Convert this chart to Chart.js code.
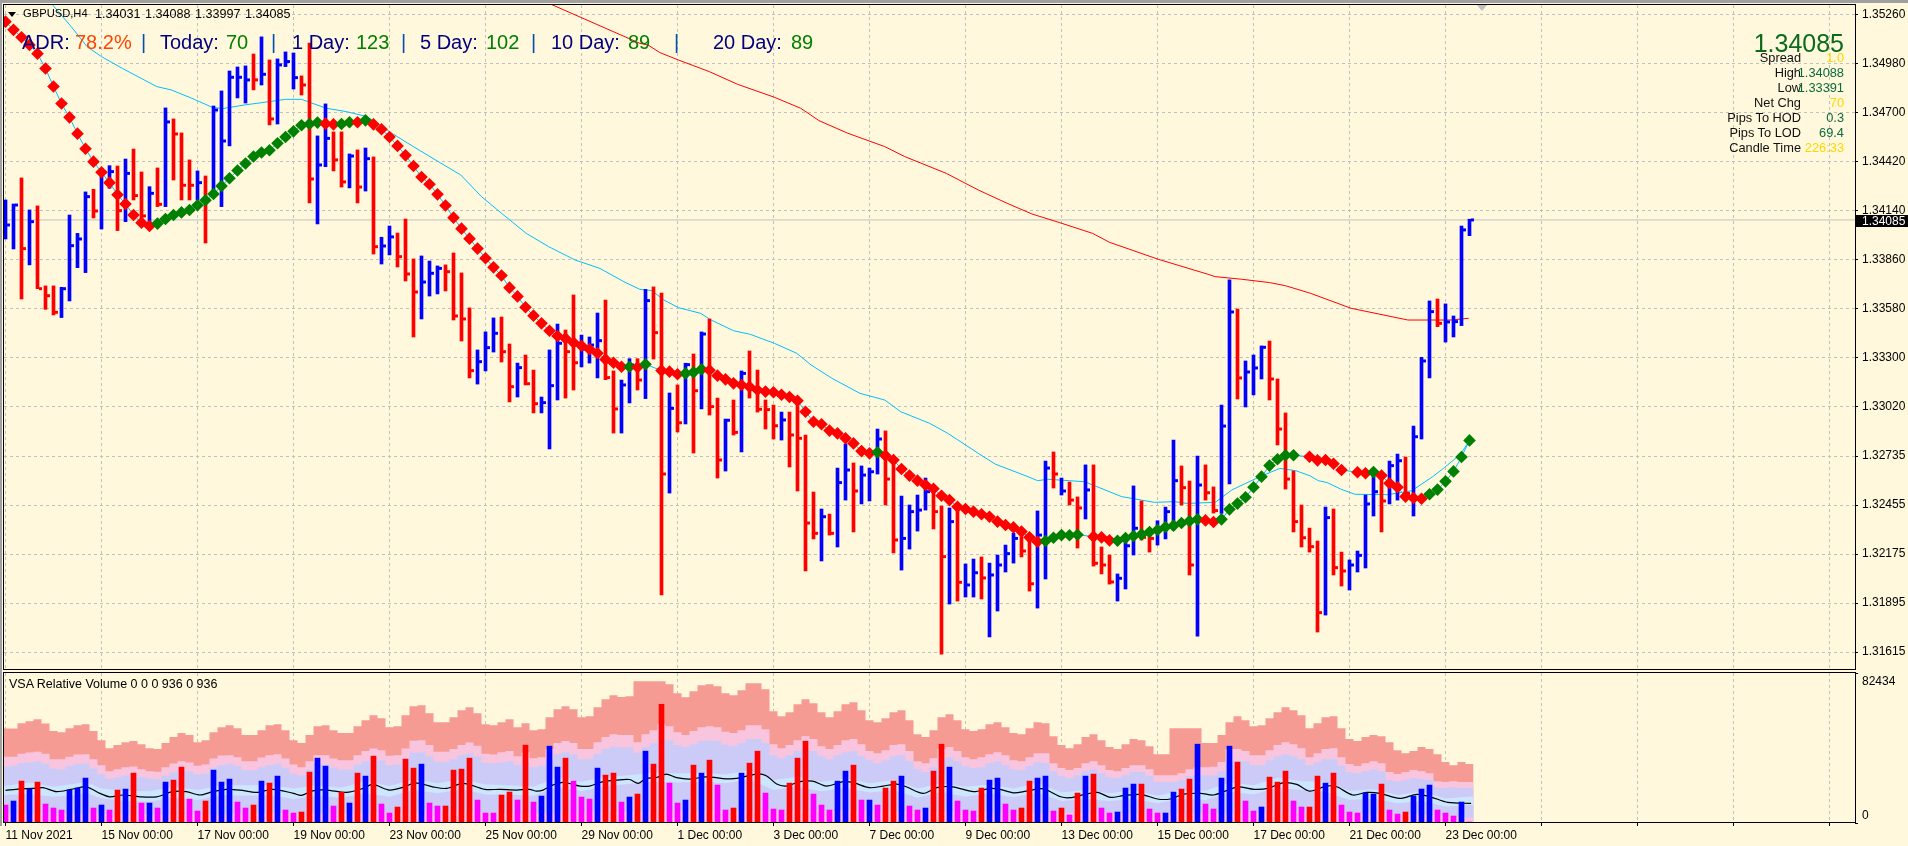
<!DOCTYPE html>
<html>
<head>
<meta charset="utf-8">
<title>GBPUSD,H4</title>
<script src="https://cdn.jsdelivr.net/npm/chart.js@4/dist/chart.umd.min.js"></script>
<style>
    html, body { margin: 0; padding: 0; width: 1908px; height: 846px; overflow: hidden; background: #FFF8DC; }
    body { position: relative; font-family: "Liberation Sans", Arial, sans-serif; color: #000; }
    canvas { position: absolute; left: 0; }
    #priceChart { top: 0; }
    #volumeChart { top: 672px; }
    .strip { position: absolute; background: #A0A0A0; }
    .t { position: absolute; white-space: pre; transform: translateY(-50%); line-height: 1; }
    .adr { font-size: 20px; top: 42px; color: #000080; }
    .sep { color: #0050B0; }
    .grn { color: #008000; }
    .row { font-size: 12.8px; }
    .lbl { right: 107px; color: #111; }
    .val { right: 64px; }
    .gold { color: #FFD700; }
    .dgrn { color: #0A6B3A; }
</style>
</head>
<body>
<canvas id="priceChart" width="1908" height="672"></canvas>
<canvas id="volumeChart" width="1908" height="174"></canvas>

<div class="strip" style="left:0;top:0;width:1908px;height:3px"></div>
<div class="strip" style="left:0;top:0;width:2px;height:826px"></div>
<div style="position:absolute;left:8px;top:12px;border-left:4px solid transparent;border-right:4px solid transparent;border-top:5px solid #000"></div>
<div style="position:absolute;left:1477px;top:5px;border-left:5px solid transparent;border-right:5px solid transparent;border-top:6px solid #C0C0C0"></div>

<div class="t" style="left:23px;top:14px;font-size:11.2px">GBPUSD,H4</div>
<div class="t" style="left:95px;top:14px;font-size:12.6px;word-spacing:1px">1.34031 1.34088 1.33997 1.34085</div>

<div class="t adr" style="left:22px">ADR:</div>
<div class="t adr" style="left:75px;color:#FF4500">78.2%</div>
<div class="t adr sep" style="left:141px">|</div>
<div class="t adr" style="left:160px">Today:</div>
<div class="t adr grn" style="left:226px">70</div>
<div class="t adr sep" style="left:271px">|</div>
<div class="t adr" style="left:292px">1 Day:</div>
<div class="t adr grn" style="left:356px">123</div>
<div class="t adr sep" style="left:401px">|</div>
<div class="t adr" style="left:420px">5 Day:</div>
<div class="t adr grn" style="left:486px">102</div>
<div class="t adr sep" style="left:531px">|</div>
<div class="t adr" style="left:551px">10 Day:</div>
<div class="t adr grn" style="left:628px">89</div>
<div class="t adr sep" style="left:674px">|</div>
<div class="t adr" style="left:713px">20 Day:</div>
<div class="t adr grn" style="left:791px">89</div>

<div class="t" style="right:64px;top:43px;font-size:25px;color:#0B6B1B">1.34085</div>
<div class="t row lbl" style="top:58px">Spread</div><div class="t row val gold" style="top:58px">1.0</div>
<div class="t row lbl" style="top:73px">High</div><div class="t row val dgrn" style="top:73px">1.34088</div>
<div class="t row lbl" style="top:88px">Low</div><div class="t row val dgrn" style="top:88px">1.33391</div>
<div class="t row lbl" style="top:103px">Net Chg</div><div class="t row val gold" style="top:103px">70</div>
<div class="t row lbl" style="top:118px">Pips To HOD</div><div class="t row val dgrn" style="top:118px">0.3</div>
<div class="t row lbl" style="top:133px">Pips To LOD</div><div class="t row val dgrn" style="top:133px">69.4</div>
<div class="t row lbl" style="top:148px">Candle Time</div><div class="t row val gold" style="top:148px">226:33</div>

<div style="position:absolute;left:1856px;top:215px;width:52px;height:12px;background:#000"></div>
<div class="t" style="left:1862px;top:221px;font-size:12px;color:#fff">1.34085</div>

<div class="t" style="left:9px;top:684px;font-size:12.5px">VSA Relative Volume 0 0 0 936 0 936</div>

<script>
// all prices are in points (1/100000), volumes in ticks
const barHighs = [
    134199,134176,134325,134142,134165,133708,133708,133700,134113,134008,
    134245,134260,134380,134395,134393,134433,134490,134359,134275,134382,
    134725,134662,134582,134428,134365,134336,134736,134822,134936,134959,
    134965,135033,135131,134999,135005,135045,135039,134908,135096,134565,
    134748,134588,134588,134462,134485,134496,134445,133986,134050,134010,
    134090,133862,133879,133850,133822,133828,133896,133782,133582,133342,
    133445,133525,133530,133376,133267,133313,133227,133073,133342,133490,
    133456,133656,133427,133416,133553,133627,133222,133170,133292,133292,
    133688,133702,133667,133096,133142,133266,133319,133445,133519,133067,
    132947,133056,133222,133336,133227,133056,133027,132987,132987,133075,
    132856,132530,132433,132404,132667,132805,132696,132679,132667,132890,
    132879,132713,132507,132456,132513,132610,132561,132450,132439,132465,
    132119,132147,132159,132124,132170,132227,132294,132275,132275,132422,
    132707,132759,132610,132587,132502,132685,132685,132216,132170,132062,
    132256,132565,132479,132294,132366,132444,132827,132679,132593,132736,
    132685,132559,133027,133742,133576,133279,133313,133365,133393,133176,
    132982,132650,132456,132324,132250,132444,132433,132187,132142,132193,
    132513,132665,132599,132707,132747,132730,132907,133300,133622,133633,
    133605,133536,134050,134089
];
const barLows = [
    133976,133919,133633,133828,133692,133574,133542,133527,133622,133812,
    133784,134096,134033,134266,134024,134075,134199,134085,134075,134161,
    134161,134313,134199,134199,134199,133953,134218,134161,134508,134782,
    134753,134828,134856,134628,134633,134961,134833,134799,134182,134062,
    134389,134365,134273,134268,134182,134250,133890,133833,133885,133816,
    133736,133416,133519,133650,133662,133679,133513,133393,133182,133147,
    133222,133330,133273,133045,133073,133142,132982,132982,132776,133056,
    133067,133113,133245,133267,133182,133172,132867,132867,133039,133113,
    133064,133290,131942,132524,132873,132919,132753,133005,132970,132610,
    132650,132856,132759,133067,132987,132890,132833,132827,132673,132536,
    132079,132262,132136,132284,132216,132484,132302,132462,132479,132633,
    132456,132182,132084,132204,132307,132427,132319,131604,131890,131907,
    131930,131930,131919,131702,131850,132073,132124,132159,131964,131867,
    132033,132553,132513,132456,132210,132376,132107,132062,132004,131907,
    131976,132170,132256,132187,132227,132262,132313,132456,132056,131707,
    132484,132410,132408,132576,133062,133016,133085,133176,133056,132799,
    132547,132302,132216,132187,131730,131827,132056,131993,131970,132073,
    132096,132393,132302,132462,132484,132484,132393,132833,133182,133475,
    133387,133416,133481,133995
];
const barCloses = [
    134056,134170,133921,134075,133692,133652,133557,133692,133938,133976,
    134218,134136,134357,134361,134138,134351,134224,134108,134237,134174,
    134645,134576,134283,134283,134298,134199,134713,134536,134900,134900,
    134885,134885,134917,134662,134971,134990,134898,134856,134319,134399,
    134551,134428,134302,134450,134273,134435,133932,133936,133988,133875,
    133776,133673,133730,133780,133808,133789,133536,133519,133224,133275,
    133355,133437,133332,133132,133241,133149,133035,133041,133138,133380,
    133332,133269,133347,133370,133395,133184,133005,133142,133256,133170,
    133624,133441,132633,133008,132926,133258,133109,133433,133018,132713,
    132940,132871,133208,133132,133003,133001,132909,132942,132856,132837,
    132353,132294,132389,132294,132584,132656,132536,132627,132646,132833,
    132604,132256,132265,132418,132427,132532,132418,132161,132361,132014,
    131999,132069,132039,132056,132113,132178,132265,132193,132006,132284,
    132667,132633,132536,132484,132439,132542,132123,132113,132016,132037,
    132223,132323,132271,132265,132317,132418,132595,132555,132113,132570,
    132526,132424,132907,133559,133182,133216,133239,133357,133176,132890,
    132604,132361,132269,132218,131841,132384,132098,132079,132113,132168,
    132462,132532,132479,132681,132709,132523,132846,133279,133561,133494,
    133502,133504,134028,134085
];
// bars that close up are drawn blue
const upBars = [
    0,1,3,7,8,9,10,12,13,15,18,20,24,26,27,28,29,30,32,34,35,36,39,40,43,45,47,48,52,53,54,
    59,60,61,64,67,68,69,72,73,74,77,78,80,83,85,87,90,92,97,102,104,105,107,108,109,112,
    113,114,115,118,120,121,123,124,125,126,129,130,132,135,139,140,141,144,145,146,149,
    152,153,155,156,157,165,168,169,170,171,173,174,176,177,178,180,181,182,183
];

const trendValues = [
    135218,135171,135129,135085,135035,134950,134847,134750,134671,134578,
    134492,134418,134357,134298,134229,134176,134113,134069,134050,134064,
    134090,134113,134128,134142,134169,134197,134233,134279,134323,134367,
    134407,134447,134470,134483,134523,134559,134591,134626,134633,134641,
    134635,134631,134633,134643,134643,134654,134631,134603,134559,134508,
    134454,134393,134330,134289,134231,134167,134098,134035,133978,133921,
    133866,133814,133767,133698,133648,133586,133538,133494,133452,133422,
    133408,133384,133366,133346,133323,133288,133269,133246,133246,133243,
    133260,null,133224,133218,133203,133208,133214,133231,133226,133195,
    133174,133151,133142,133132,133113,133104,133100,133086,133073,133052,
    132989,132932,132917,132881,132865,132837,132808,132764,132751,132757,
    132738,132713,132662,132624,132595,132570,132549,132509,132484,132446,
    132433,132418,132403,132389,132361,132342,132328,132304,132271,132246,
    132250,132269,132284,132283,132286,null,132275,132271,132254,132252,
    132267,132279,132288,132302,132313,132330,132338,132353,132364,132374,
    132368,132359,132374,132431,132464,132500,132557,132618,132681,132717,
    132740,132740,null,132732,132711,132713,132692,132656,null,132643,
    132637,132644,132624,132580,132557,132504,132496,132492,132517,132544,
    132591,132648,132730,132825
];
const trendUpBars = [
    19,20,21,22,23,24,25,26,27,28,29,30,31,32,33,34,35,36,37,38,39,42,43,45,78,80,85,86,87,109,
    130,131,132,133,134,139,140,141,142,143,144,145,146,147,148,149,
    152,153,154,155,156,157,158,159,160,161,171,178,179,180,181,182,183
];

const maFastBars = [
    5.9,8.2,10.2,12,14.6,18.9,20.7,23.3,25.8,27.1,29.9,33,35,37,40.1,42.6,45.2,48.3,50.3,54.1,56.9,
    59.5,62,65.1,67.9,71.2,74.3,77.3,79.3,80.8,82.3,84.1,86.9,88.2,91,93.1,96.1,98.9,100.7,103.3,
    106.8,109.9,111.9,115.5,117.8,121.6,123.7,127.8,129,130.3,134.9,139.5,143.6,146.1,147.7,151.2,
    153.3,156.8,159.3,161.3,163.1,164.1,165.2,166.9,168.7,172.8,175.8,178.4,179.9,181.9,182.9
];
const maFastValues = [
    135313,135190,135075,135018,134951,134847,134828,134780,134729,134721,134742,134761,134774,134774,134723,134704,134675,134580,134523,134418,134342,
    134218,134123,134008,133932,133856,133808,133732,133688,133681,133627,133584,133551,133513,133452,133431,133380,133323,133256,133180,
    133094,133056,132989,132923,132865,132751,132690,132618,132595,132603,132589,132504,132471,132475,132465,132471,
    132542,132618,132665,132652,132622,132595,132584,132547,132517,132515,132538,132618,132671,132747,132818
];
const maSlowBars = [
    68.2,79.3,80.3,81.8,84.1,88,91.5,96.1,99.4,101.7,105.3,109.9,112.4,117.6,121.6,125.2,128.3,131.8,
    135.9,138,144.1,150.2,151.2,154.5,158,160,163.1,168.2,175.3,180.7,182.9
];
const maSlowValues = [
    135317,135094,135085,135041,134999,134932,134860,134786,134723,134652,134580,134504,134447,134351,134256,134180,134119,134069,
    134008,133957,133860,133776,133761,133746,133727,133709,133666,133580,133513,133513,133523
];
const currentPrice = 134085;

const yTickValues = [135260,134980,134700,134420,134140,133860,133580,133300,133020,132735,132455,132175,131895,131615];
const xTickBars = [0,12,24,36,48,60,72,84,96,108,120,132,144,156,168,180,192,204,216,228];
const xTickLabels = [
    '11 Nov 2021','15 Nov 00:00','17 Nov 00:00','19 Nov 00:00','23 Nov 00:00','25 Nov 00:00','29 Nov 00:00','1 Dec 00:00',
    '3 Dec 00:00','7 Dec 00:00','9 Dec 00:00','13 Dec 00:00','15 Dec 00:00','17 Dec 00:00','21 Dec 00:00','23 Dec 00:00'
];

const volumeValues = [
    9871,12065,23033,18646,22484,10420,8226,7129,18097,19194,
    24678,8226,9871,7129,18097,18646,27420,10968,10968,8226,
    22484,23581,30710,13162,6581,12065,29065,22484,24130,11516,
    8226,9871,23033,21936,25775,7129,5484,6032,27968,35646,
    31259,9323,17000,10968,27420,25775,36743,10420,5484,8774,
    35098,30162,32356,10968,9323,9323,29065,29614,35646,12613,
    5484,5484,15355,17000,12613,42775,11516,14807,42227,30710,
    35646,23033,14258,13162,30162,26323,27420,11516,14258,15904,
    39485,32356,65260,21936,10968,12613,31807,27420,34549,20839,
    7129,8226,27420,32904,39485,16452,7678,7129,21936,35646,
    44969,15904,9871,7129,23033,28517,31807,12613,12613,9871,
    19194,23033,25775,9323,7129,8226,28517,43324,30710,12065,
    7129,6581,19194,23581,24678,10420,7129,8226,23033,24678,
    25775,6581,8226,4387,16452,25775,26872,8226,5484,6032,
    19194,21388,21388,7678,5484,5484,17000,18646,24130,43324,
    10420,7678,24678,42227,33452,12065,6581,8774,25226,22484,
    28517,12065,8774,8774,25775,21936,27420,9871,6032,5484,
    16452,15904,21388,7129,4936,6032,14807,18646,20839,7129,
    5484,3839,11516,548
];
// b = buying, r = selling, m = low volume
const volumeKinds = (
    'mbrbrmmmbb' + 'bmbmrbrmbm' + 'brrmmrbbbm' + 'mrbrbmmrrb' + 'bmrbrbrmmr' + 'rrbmmrrrrm' +
    'mmrrmrmbbb' + 'rmmmbrrmbr' + 'brrmmbrbrm' + 'mrbrrmmmrr' + 'rmmmbbrmbm' + 'rrbmmbrrbm' +
    'mmrbbmmrrb' + 'bmrmrbrmmb' + 'bbrmmbbrrb' + 'mmbbrmmbrr' + 'rmmrrbrmmm' + 'bbrmmrbbbm' + 'mmbm'
).split('');

// band tops, in hundreds of ticks
const bandHighTops = [
    519,519,548,559,570,547,505,499,521,537,543,505,455,411,428,444,450,433,411,406,
    439,472,494,483,444,455,499,526,537,521,483,483,510,537,543,510,455,439,483,532,
    537,510,494,494,532,565,592,576,526,532,592,642,647,603,554,554,581,620,636,603,
    543,537,554,570,526,548,510,515,581,625,642,625,581,587,636,680,702,693,696,779,
    779,779,779,762,713,691,724,757,762,751,713,702,729,768,768,735,614,587,609,653,
    680,658,609,581,614,653,664,620,565,554,576,609,620,565,488,472,510,581,598,565,
    515,505,515,543,554,526,494,488,521,554,548,477,428,411,433,472,488,455,417,406,
    433,461,455,422,378,378,521,521,521,521,439,439,483,554,587,565,532,537,576,609,
    636,620,592,521,548,581,587,521,461,450,472,483,477,444,400,384,395,417,406,378,
    335,318,335,324
];
const bandMidTops = [
    364,364,380,388,391,380,351,351,364,377,378,351,318,285,296,307,311,296,285,282,
    307,327,340,333,314,322,355,371,373,362,340,340,360,373,378,355,322,307,340,373,
    373,355,345,345,373,395,409,400,369,373,409,452,455,428,391,391,406,428,442,424,
    380,377,389,395,367,388,356,362,406,439,450,439,406,406,444,472,488,483,483,444,
    488,510,543,532,499,483,505,526,532,526,501,494,510,537,537,515,433,411,428,455,
    477,461,422,406,428,455,461,433,395,384,400,428,433,395,340,329,356,406,417,395,
    362,351,362,378,389,373,345,340,362,384,384,329,302,291,302,329,340,318,291,285,
    302,318,318,296,263,263,263,274,296,307,307,309,335,406,406,395,373,373,400,428,
    444,433,411,362,384,406,411,362,324,313,329,340,329,280,269,280,291,285,274,230,
    225,230,225,225
];
const bandLowTops = [
    309,314,329,333,340,325,300,296,314,324,327,300,269,243,252,261,265,252,245,241,
    260,278,291,285,267,272,303,318,324,313,291,291,307,318,324,303,272,263,292,322,
    322,305,294,294,322,340,355,344,318,322,355,388,389,367,336,336,351,373,382,366,
    331,327,333,340,318,333,307,314,351,378,389,377,351,353,380,406,419,415,415,386,
    417,439,464,455,428,417,433,450,455,450,430,424,439,461,461,439,373,356,373,395,
    411,395,367,351,373,389,395,367,345,329,345,367,373,340,296,280,307,351,362,340,
    313,302,307,329,340,318,296,291,313,335,329,285,258,247,263,285,296,274,252,247,
    263,280,280,258,225,225,225,236,258,263,263,263,285,345,340,340,318,318,345,367,
    378,367,351,318,335,351,351,313,280,274,285,296,285,236,230,236,247,241,236,197,
    192,197,192,192
];
const bandEdgeBars = [
    0,3,6,9,10,12,15,18,21,24,27,30,33,36,39,42,45,48,51,54,57,60,
    63,66,69,72,75,78,81,84,87,90,93,96,99,102,105,108,111,114,117,120,123,
    126,129,132,135,138,141,144,147,150,153,156,159,162,165,168,171,174,177,180,183
];
const bandCoreTops = [
    205,223,199,218,227,190,177,175,199,181,208,208,208,190,208,194,230,203,241,218,241,212,
    208,199,249,227,254,263,278,272,276,267,291,236,254,227,245,218,236,190,218,199,212,
    190,218,168,181,163,181,150,181,177,223,208,249,230,227,177,186,154,172,135,144
];
const bandCoreBottoms = [
    154,159,144,154,168,135,121,117,141,126,154,150,154,132,150,139,163,144,183,163,186,157,
    157,150,199,175,205,214,227,223,227,218,241,181,199,175,194,168,181,139,172,144,163,
    141,166,121,132,121,132,108,135,126,172,157,194,181,172,126,135,108,121,90,99
];
const bandFloorBars = [0,8,16,24,32,40,48,56,64,72,80,88,96,104,112,120,128,136,144,152,160,168,176,183];
const bandFloorTops = [48,51,48,44,55,51,55,58,55,58,62,66,66,66,62,62,53,57,51,51,58,53,51,29];

const volumeLineBars = [
    0,1.8,3.4,4.7,6.4,8.2,10.1,11.8,13,14.7,16.8,18.9,20.9,22.6,24.3,25.9,27.6,29.3,31.4,33.4,36,37,38.4,40.1,42.6,44.7,45.9,48,49.9,51.2,53.4,55.1,57.2,59.9,61.8,
    63.9,65.5,66.4,67.2,68.4,69.7,71.8,73,74.7,76.4,78,79.1,80.1,81.4,82.6,83.9,85.5,87.6,90.1,91.4,93.9,95.1,96.4,97.6,99.3,100.9,102.6,104.7,105.9,108,109.7,111.4,112.6,114.7,116.4,118.4,121,123.1,
    124.3,126,127.6,129.7,131.9,133.1,134.9,136.5,138.1,139.7,141.9,144,145.6,147.3,149.4,151,152.8,154.1,156.1,157.8,159.7,161.4,163,165.1,166.4,168.4,170.1,171.8,174.3,176.4,178.1,180.3,183.2
];
const volumeLineValues = [
    179,188,190,194,172,185,199,163,144,154,144,144,172,172,154,172,185,181,168,185,163,152,177,181,168,190,212,181,199,221,199,190,218,185,185,
    181,185,175,181,208,223,203,203,227,236,239,218,245,250,269,249,241,254,243,245,269,260,214,203,227,230,203,227,223,194,203,214,199,163,194,199,172,190,
    185,166,175,188,144,139,157,168,141,150,157,132,132,159,163,154,181,199,185,190,221,212,175,203,199,154,168,163,135,157,144,113,108
];
const volumeAxisMax = 82434;
const volumeTickSpots = [0, 3850, 77650, 82434];
const volumeTickLabels = ['', '0', '82434', ''];

const BLUE = '#0000FF';
const RED = '#FF0000';
const MAGENTA = '#FF00FF';
const GREEN = '#008000';
const SKY = '#00BFFF';
const GRID = '#C0C0C0';
const AXIS_FONT = { family: '"Liberation Sans", Arial, sans-serif', size: 12 };

const X_MIN = -0.1875;
const X_MAX = 231.1875;
const AXIS_WIDTH = 53;

const toPrice = p => p / 100000;
const fromHundreds = v => v * 100;
// the plot box is fixed, so labels may hang over its edges
const clearOverhang = scale => {
    scale.paddingTop = 0;
    scale.paddingBottom = 0;
    scale.paddingLeft = 0;
    scale.paddingRight = 0;
};
const fixedWidth = scale => {
    scale.width = AXIS_WIDTH;
    clearOverhang(scale);
};
const setXTicks = scale => { scale.ticks = xTickBars.map(v => ({ value: v })); };

// thin black box round the plot
const framePlugin = {
    id: 'frame',
    afterDraw(chart) {
        const { ctx, chartArea: a } = chart;
        ctx.save();
        ctx.strokeStyle = '#000';
        ctx.lineWidth = 1;
        ctx.strokeRect(a.left - 0.5, a.top - 0.5, a.right - a.left + 1, a.bottom - a.top);
        ctx.restore();
    },
};

function xScale(showLabels, axisHeight) {
    return {
        type: 'linear',
        min: X_MIN,
        max: X_MAX,
        offset: false,
        afterBuildTicks: setXTicks,
        afterFit: scale => {
            scale.height = axisHeight;
            clearOverhang(scale);
        },
        grid: { color: GRID, offset: false, drawTicks: showLabels, tickLength: 3, tickColor: '#000' },
        border: { display: false, dash: [3, 3] },
        ticks: {
            display: showLabels,
            autoSkip: false,
            maxRotation: 0,
            align: 'start',
            padding: 2,
            color: '#000',
            font: AXIS_FONT,
            callback: (value, index) => xTickLabels[index] || '',
        },
    };
}

function lineVertices(bars, values) {
    return bars.map((b, i) => ({ x: b, y: toPrice(values[i]) }));
}

const bars = barHighs.map((h, i) => i);
const barColors = bars.map(i => (upBars.includes(i) ? BLUE : RED));

new Chart(document.getElementById('priceChart'), {
    data: {
        datasets: [
            {
                type: 'line',
                order: 0,
                data: trendValues.map((v, i) => ({ x: i, y: v === null ? null : toPrice(v) })),
                spanGaps: true,
                borderColor: SKY,
                borderWidth: 1,
                pointStyle: 'rectRot',
                pointRadius: 6.3,
                pointBorderWidth: 0,
                pointBackgroundColor: bars.map(i => (trendUpBars.includes(i) ? GREEN : RED)),
            },
            {
                type: 'line',
                order: 1,
                data: barCloses.map((c, i) => ({ x: i + 0.375, y: toPrice(c) })),
                showLine: false,
                pointStyle: 'rect',
                pointRadius: 2.1,
                pointBorderWidth: 0,
                pointBackgroundColor: barColors,
            },
            {
                type: 'bar',
                order: 2,
                data: bars.map(i => ({ x: i, y: [toPrice(barLows[i]), toPrice(barHighs[i])] })),
                backgroundColor: barColors,
                barThickness: 3,
            },
            {
                type: 'line',
                order: 3,
                data: lineVertices(maFastBars, maFastValues),
                borderColor: SKY,
                borderWidth: 1,
                pointRadius: 0,
            },
            {
                type: 'line',
                order: 4,
                data: lineVertices(maSlowBars, maSlowValues),
                borderColor: RED,
                borderWidth: 1,
                pointRadius: 0,
            },
            {
                type: 'line',
                order: 5,
                data: [{ x: X_MIN, y: toPrice(currentPrice) }, { x: X_MAX, y: toPrice(currentPrice) }],
                borderColor: GRID,
                borderWidth: 1,
                pointRadius: 0,
            },
        ],
    },
    options: {
        responsive: false,
        animation: false,
        events: [],
        devicePixelRatio: 1,
        layout: { autoPadding: false, padding: { left: 4, top: 5, bottom: 2, right: 0 } },
        plugins: { legend: { display: false }, tooltip: { enabled: false } },
        scales: {
            x: xScale(false, 0),
            y: {
                position: 'right',
                min: 1.315131,
                max: 1.353131,
                afterFit: fixedWidth,
                afterBuildTicks: scale => { scale.ticks = yTickValues.map(v => ({ value: toPrice(v) })); },
                grid: { color: GRID, tickLength: 3, tickColor: '#000' },
                border: { display: false, dash: [3, 3] },
                ticks: {
                    padding: 4,
                    color: '#000',
                    font: AXIS_FONT,
                    callback: value => value.toFixed(5),
                },
            },
        },
    },
    plugins: [framePlugin],
});

// area bands step from bar to bar, and run out to the panel's left edge and past the last bar
function stepBand(values) {
    const pts = values.map((v, i) => ({ x: i, y: fromHundreds(v) }));
    pts.unshift({ x: X_MIN, y: fromHundreds(values[0]) });
    pts.push({ x: values.length - 0.5, y: fromHundreds(values[values.length - 1]) });
    return pts;
}

function slopeBand(barIdx, values) {
    const pts = barIdx.map((b, i) => ({ x: b, y: fromHundreds(values[i]) }));
    pts.unshift({ x: X_MIN, y: fromHundreds(values[0]) });
    pts.push({ x: 183.5, y: fromHundreds(values[values.length - 1]) });
    return pts;
}

function bandDataset(data, color, order, stepped) {
    return {
        type: 'line',
        order,
        data,
        stepped: stepped ? 'middle' : false,
        fill: 'origin',
        backgroundColor: color,
        borderWidth: 0,
        pointRadius: 0,
    };
}

const kindColors = { b: BLUE, r: RED, m: MAGENTA };

new Chart(document.getElementById('volumeChart'), {
    data: {
        datasets: [
            {
                type: 'bar',
                order: 0,
                data: volumeValues.map((v, i) => ({ x: i, y: v })),
                backgroundColor: volumeKinds.map(k => kindColors[k]),
                barThickness: 5,
            },
            {
                type: 'line',
                order: 1,
                data: volumeLineBars.map((b, i) => ({ x: b, y: fromHundreds(volumeLineValues[i]) })),
                borderColor: '#000',
                borderWidth: 1.2,
                tension: 0.3,
                pointRadius: 0,
            },
            bandDataset(slopeBand(bandFloorBars, bandFloorTops), '#FEC3E1', 2, false),
            bandDataset(slopeBand(bandEdgeBars, bandCoreBottoms), '#CCCBF7', 3, false),
            bandDataset(slopeBand(bandEdgeBars, bandCoreTops), '#CCE6FF', 4, false),
            bandDataset(stepBand(bandLowTops), '#CCCBF7', 5, true),
            bandDataset(stepBand(bandMidTops), '#F9C5DE', 6, true),
            bandDataset(stepBand(bandHighTops), '#F69A94', 7, true),
        ],
    },
    options: {
        responsive: false,
        animation: false,
        events: [],
        devicePixelRatio: 1,
        layout: { autoPadding: false, padding: { left: 4, top: 1, bottom: 0, right: 0 } },
        plugins: { legend: { display: false }, tooltip: { enabled: false } },
        scales: {
            x: xScale(true, 23),
            y: {
                position: 'right',
                min: 0,
                max: volumeAxisMax,
                afterFit: fixedWidth,
                afterBuildTicks: scale => { scale.ticks = volumeTickSpots.map(v => ({ value: v })); },
                grid: {
                    color: 'transparent',
                    tickLength: 3,
                    tickColor: ctx => (ctx.tick && (ctx.tick.value === 0 || ctx.tick.value === volumeAxisMax) ? '#000' : 'transparent'),
                },
                border: { display: false },
                ticks: {
                    padding: 4,
                    color: '#000',
                    font: AXIS_FONT,
                    autoSkip: false,
                    callback: (value, index) => volumeTickLabels[index],
                },
            },
        },
    },
    plugins: [framePlugin],
});
</script>
</body>
</html>
